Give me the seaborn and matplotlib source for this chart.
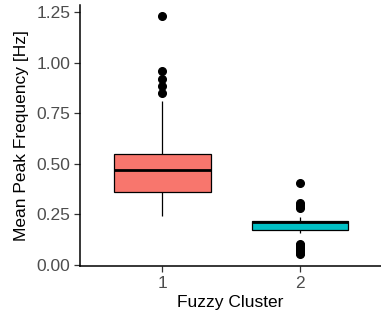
import matplotlib
matplotlib.use("Agg")
import matplotlib.pyplot as plt
import seaborn as sns
import pandas as pd

# Mean peak frequency observations per fuzzy cluster [Hz]
cluster_labels = ["1", "2"]
cluster_1_freq = [
    0.242, 0.270, 0.290, 0.310, 0.330, 0.345,
    0.362,
    0.380, 0.400, 0.420, 0.440, 0.455,
    0.470,
    0.482, 0.495, 0.508, 0.522, 0.537,
    0.550,
    0.810,
    0.851, 0.886, 0.919, 0.960, 1.232,
]
cluster_2_freq = [
    0.052, 0.060, 0.068, 0.075, 0.082, 0.090, 0.097, 0.104,
    0.158, 0.163, 0.167, 0.170,
    0.173,
    0.177, 0.181, 0.185, 0.189, 0.193, 0.196, 0.199, 0.202, 0.205, 0.207, 0.209,
    0.212,
    0.2125, 0.2130, 0.2133, 0.2136, 0.2140, 0.2143, 0.2146, 0.2150, 0.2153, 0.2156, 0.2158,
    0.216,
    0.219, 0.222, 0.225, 0.229, 0.232, 0.236, 0.239,
    0.283, 0.290, 0.297, 0.305, 0.405,
]
cluster_colors = ["#F8766D", "#00BFC4"]
y_ticks = [0.00, 0.25, 0.50, 0.75, 1.00, 1.25]

df = pd.DataFrame({
    "cluster": [cluster_labels[0]] * len(cluster_1_freq) + [cluster_labels[1]] * len(cluster_2_freq),
    "freq": cluster_1_freq + cluster_2_freq,
})

sns.set_style("ticks")
plt.rcParams["font.family"] = ["Liberation Sans", "DejaVu Sans"]

fig = plt.figure(figsize=(3.81, 3.23), dpi=100)
ax = fig.add_axes([80 / 381, 57 / 323, 1 - 80 / 381, 261 / 323])

sns.boxplot(
    data=df, x="cluster", y="freq", hue="cluster", order=cluster_labels,
    hue_order=cluster_labels, palette=cluster_colors, legend=False,
    width=0.7, linecolor="black", linewidth=0.9, saturation=1,
    fliersize=5.5, showcaps=False,
    flierprops=dict(marker="o", markerfacecolor="black", markeredgecolor="black"),
    medianprops=dict(linewidth=2.0, color="black"),
    ax=ax,
)

ax.set_xlim(-0.6, 1.59)
ax.set_ylim(-0.005, 1.2846)
ax.set_yticks(y_ticks)
ax.set_yticklabels([f"{t:.2f}" for t in y_ticks])

ax.set_xlabel("Fuzzy Cluster", fontsize=12.5, color="black", labelpad=3)
ax.set_ylabel("Mean Peak Frequency [Hz]", fontsize=12.5, color="black", labelpad=5)
ax.tick_params(axis="both", labelsize=12.5, labelcolor="#4D4D4D", color="#333333",
               length=4, width=0.9, pad=3)

sns.despine(ax=ax)
for side in ("left", "bottom"):
    ax.spines[side].set_linewidth(1.1)
    ax.spines[side].set_color("black")

fig.savefig("out.png", dpi=100)
